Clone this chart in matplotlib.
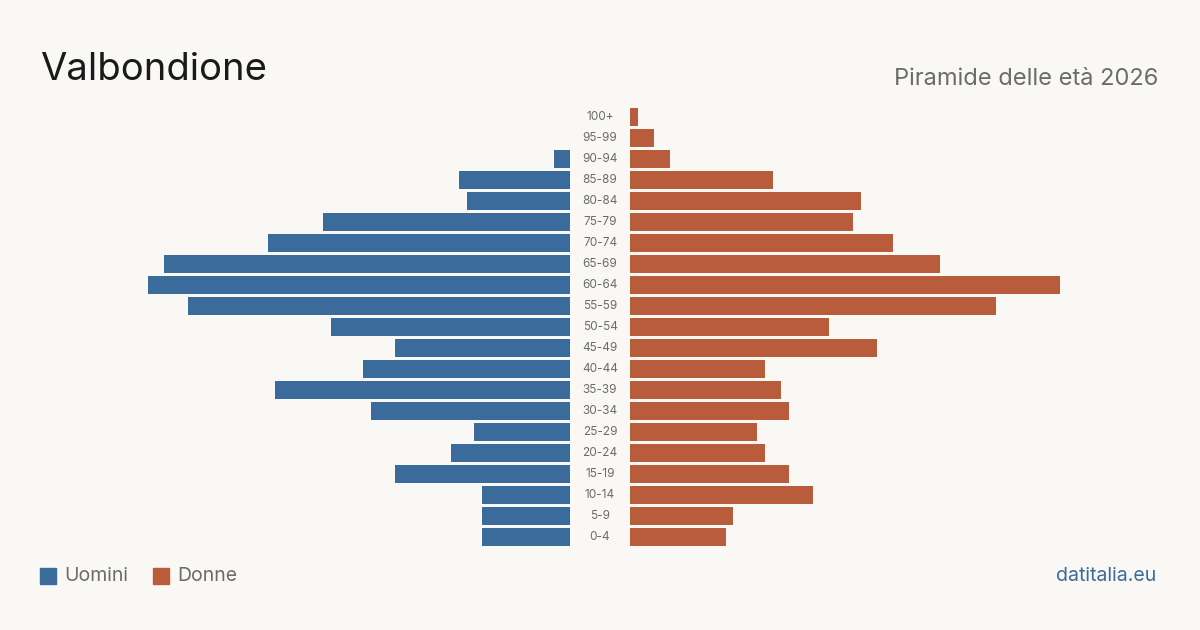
import numpy as np
import matplotlib.pyplot as plt
from matplotlib.patches import Rectangle

BG = '#f9f8f4'
BLUE = '#3b6b9b'
ORANGE = '#b95c3c'
GREY = '#6b6b6b'

age_groups = ['0-4', '5-9', '10-14', '15-19', '20-24', '25-29', '30-34',
              '35-39', '40-44', '45-49', '50-54', '55-59', '60-64', '65-69',
              '70-74', '75-79', '80-84', '85-89', '90-94', '95-99', '100+']
uomini = [11, 11, 11, 22, 15, 12, 25, 37, 26, 22, 30, 48, 53, 51,
          38, 31, 13, 14, 2, 0, 0]
donne = [12, 13, 23, 20, 17, 16, 20, 19, 17, 31, 25, 46, 54, 39,
         33, 28, 29, 18, 5, 3, 1]

plt.rcParams['font.family'] = ['Inter', 'DejaVu Sans']

fig = plt.figure(figsize=(12, 6.3), dpi=100, facecolor=BG)

# two half-axes meeting in the middle, gap left for the age labels
bottom = (630 - 547.5) / 630
height = 441 / 630
ax_l = fig.add_axes([90 / 1200, bottom, 480 / 1200, height])
ax_r = fig.add_axes([630 / 1200, bottom, 480 / 1200, height])

y = np.arange(len(age_groups))
ax_l.barh(y, uomini, height=0.81, color=BLUE)
ax_r.barh(y, donne, height=0.81, color=ORANGE)

xmax = 60.3
ax_l.set_xlim(xmax, 0)
ax_r.set_xlim(0, xmax)
for ax in (ax_l, ax_r):
    ax.set_ylim(-0.5, len(age_groups) - 0.5)
    ax.axis('off')

for yi, lab in zip(y, age_groups):
    ax_r.text(-30 / 480 * xmax, yi, lab, ha='center', va='center',
              fontsize=8.5, color=GREY)

fig.text(40 / 1200, 1 - 80 / 630, 'Valbondione', fontsize=27.5,
         color='#1a1a1a', ha='left', va='baseline')
fig.text(1158 / 1200, 1 - 85 / 630, 'Piramide delle età 2026', fontsize=17,
         color=GREY, ha='right', va='baseline')

# legend
for x0, col, lab in [(40, BLUE, 'Uomini'), (153, ORANGE, 'Donne')]:
    fig.patches.append(Rectangle((x0 / 1200, 1 - 584 / 630), 16 / 1200,
                                 16 / 630, transform=fig.transFigure,
                                 color=col))
    fig.text((x0 + 24) / 1200, 1 - 576 / 630, lab, fontsize=14, color=GREY,
             ha='left', va='center')

fig.text(1156 / 1200, 1 - 576 / 630, 'datitalia.eu', fontsize=14,
         color=BLUE, ha='right', va='center')

fig.savefig('out.png', dpi=100, facecolor=BG)
